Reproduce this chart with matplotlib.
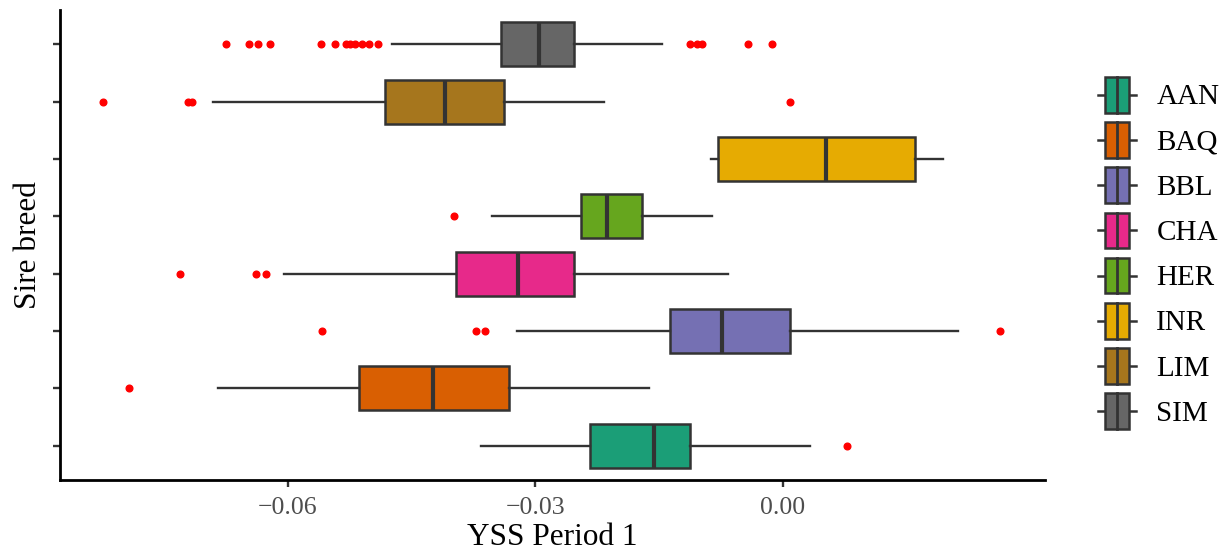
import matplotlib
matplotlib.use("Agg")
import matplotlib.pyplot as plt
from matplotlib.legend_handler import HandlerBase
from matplotlib.patches import Rectangle, Patch
from matplotlib.lines import Line2D

plt.rcParams['font.family'] = ['Liberation Serif', 'DejaVu Serif']

# breeds, bottom to top
breeds = ['AAN', 'BAQ', 'BBL', 'CHA', 'HER', 'INR', 'LIM', 'SIM']
colors = ['#1B9E77', '#D95F02', '#7570B3', '#E7298A',
          '#66A61E', '#E6AB02', '#A6761D', '#666666']

# five-number summaries for YSS period 1
whis_lo = [-0.0366, -0.0685, -0.0322, -0.0605, -0.0352, -0.0087, -0.0690, -0.0473]
q1 = [-0.0234, -0.0513, -0.0137, -0.0396, -0.0244, -0.0078, -0.0482, -0.0342]
median = [-0.0156, -0.0424, -0.0074, -0.0321, -0.0213, 0.0052, -0.0409, -0.0295]
q3 = [-0.0112, -0.0332, 0.0009, -0.0253, -0.0170, 0.0161, -0.0338, -0.0253]
whis_hi = [0.0033, -0.0162, 0.0212, -0.0066, -0.0086, 0.0194, -0.0216, -0.0146]

# outlying sires per breed
outliers = [
    [0.0078],
    [-0.0792],
    [-0.0558, -0.0372, -0.0361, 0.0264],
    [-0.0731, -0.0638, -0.0626],
    [-0.0399],
    [],
    [-0.0824, -0.0721, -0.0716, 0.0009],
    [-0.0675, -0.0647, -0.0636, -0.0621, -0.0560, -0.0543, -0.0529,
     -0.0524, -0.0519, -0.0510, -0.0502, -0.0491,
     -0.0112, -0.0104, -0.0098, -0.0042, -0.0013],
]

xticks = [-0.06, -0.03, 0.00]
xtick_labels = ['\u22120.06', '\u22120.03', '0.00']

stats = []
for i in range(len(breeds)):
    stats.append(dict(label=breeds[i], whislo=whis_lo[i], q1=q1[i], med=median[i],
                      q3=q3[i], whishi=whis_hi[i], fliers=outliers[i]))

fig = plt.figure(figsize=(12.21, 5.52), dpi=100)
ax = fig.add_axes([60 / 1221, 1 - 480 / 552, 985 / 1221, 470 / 552])

edge = '#333333'
positions = list(range(1, len(breeds) + 1))
bp = ax.bxp(stats, positions=positions, vert=False, widths=0.77, patch_artist=True,
            showcaps=False,
            boxprops=dict(edgecolor=edge, linewidth=1.8),
            medianprops=dict(color=edge, linewidth=3.0),
            whiskerprops=dict(color=edge, linewidth=1.7),
            flierprops=dict(marker='o', markerfacecolor='red', markeredgecolor='red',
                            markersize=4.8, linestyle='none'))
for box, c in zip(bp['boxes'], colors):
    box.set_facecolor(c)

ax.set_ylim(0.4, len(breeds) + 0.6)
ax.set_xlim(-0.0876, 0.0318)
ax.set_yticks(positions)
ax.set_yticklabels([])
ax.set_xticks(xticks)
ax.set_xticklabels(xtick_labels)
ax.tick_params(axis='both', length=5, width=1.7, color='#333333',
               labelsize=18.5, labelcolor='#4D4D4D')
ax.tick_params(axis='x', pad=7)
for side in ['top', 'right']:
    ax.spines[side].set_visible(False)
for side in ['left', 'bottom']:
    ax.spines[side].set_linewidth(2.0)
    ax.spines[side].set_color('black')

ax.set_xlabel('YSS Period 1', fontsize=22.5, labelpad=3)
ax.set_ylabel('Sire breed', fontsize=22.5, labelpad=4)


class BoxKey(HandlerBase):
    # small vertical boxplot glyph for the legend
    def create_artists(self, legend, orig_handle, xdescent, ydescent,
                       width, height, fontsize, trans):
        x0, y0 = -xdescent, -ydescent
        bx0 = x0 + width * 0.18
        bw = width * 0.64
        mid = y0 + height / 2
        arts = [
            Line2D([x0, bx0], [mid, mid], color=edge, lw=1.8, transform=trans),
            Line2D([bx0 + bw, x0 + width], [mid, mid], color=edge, lw=1.8, transform=trans),
            Rectangle((bx0, y0), bw, height, facecolor=orig_handle.get_facecolor(),
                      edgecolor=edge, lw=1.8, transform=trans),
            Line2D([bx0 + bw / 2, bx0 + bw / 2], [y0, y0 + height], color=edge,
                   lw=2.0, transform=trans),
        ]
        return arts


handles = [Patch(facecolor=c) for c in colors]
fig.legend(handles, breeds, handler_map={Patch: BoxKey()}, loc='center left',
           bbox_to_anchor=(1098 / 1221, 1 - 253 / 552), bbox_transform=fig.transFigure,
           frameon=False, fontsize=21, handlelength=1.3, handleheight=1.5,
           labelspacing=0.33, handletextpad=0.7, borderpad=0, borderaxespad=0)

fig.savefig('out.png', dpi=100)
